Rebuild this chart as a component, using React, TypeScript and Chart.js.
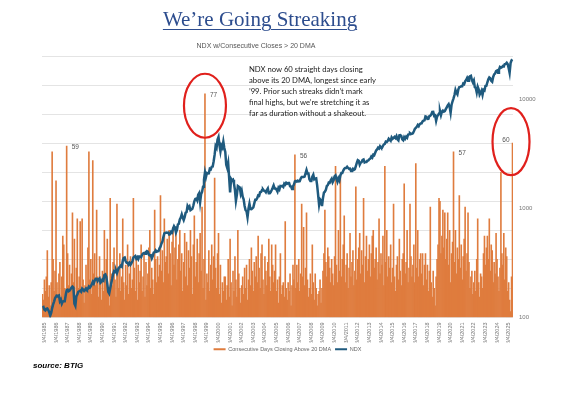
import React, { useEffect, useRef } from "react";
import { Chart, registerables } from "chart.js";

Chart.register(...registerables);

// ---- DATA (monthly, Jan 1985 -> Jul 2025) ----
const START_YEAR = 1985;
const TICK_MONTH = 3; // axis labels on "3/4/YYYY"
const TICK_DAY = 4;

// Consecutive days closing above 20 DMA (longest streak in each month)
const STREAK_1985_1989 = [
  8, 6, 13, 9, 14, 23, 7, 11, 4, 12, 57, 20,
  9, 16, 47, 12, 8, 15, 19, 6, 14, 28, 25, 10,
  7, 59, 22, 11, 18, 9, 15, 36, 12, 27, 6, 17,
  34, 10, 14, 33, 8, 34, 13, 5, 11, 18, 9, 24,
  57, 13, 20, 8, 54, 15, 22, 11, 37, 14, 7, 21,
];
const STREAK_1990_1994 = [
  12, 6, 16, 9, 30, 14, 20, 27, 8, 4, 41, 15,
  11, 19, 24, 13, 7, 39, 16, 10, 22, 9, 14, 34,
  12, 6, 18, 11, 25, 8, 15, 21, 10, 13, 41, 17,
  9, 20, 6, 18, 12, 16, 25, 9, 14, 22, 7, 19,
  11, 15, 24, 30, 10, 17, 13, 8, 37, 20, 12, 21,
];
const STREAK_1995_1999 = [
  14, 18, 42, 16, 23, 12, 34, 19, 21, 27, 15, 30,
  22, 11, 26, 31, 18, 24, 30, 13, 20, 25, 30, 16,
  22, 9, 19, 29, 14, 26, 11, 23, 17, 30, 21, 8,
  25, 35, 14, 19, 27, 12, 22, 29, 16, 38, 10, 20,
  77, 6, 15, 12, 23, 9, 18, 25, 13, 21, 48, 17,
];
const STREAK_2000_2004 = [
  10, 22, 29, 8, 18, 5, 12, 9, 14, 14, 6, 11,
  20, 7, 27, 12, 4, 16, 9, 21, 13, 7, 30, 15,
  10, 5, 11, 14, 8, 17, 10, 18, 6, 13, 20, 11,
  24, 16, 9, 19, 14, 21, 12, 28, 17, 10, 22, 25,
  13, 8, 21, 16, 11, 19, 27, 14, 9, 25, 18, 12,
];
const STREAK_2005_2009 = [
  16, 25, 9, 13, 5, 14, 22, 8, 11, 12, 7, 33,
  10, 6, 12, 9, 15, 4, 11, 18, 13, 56, 10, 18,
  12, 20, 9, 15, 39, 14, 31, 11, 17, 36, 13, 7,
  10, 15, 8, 25, 12, 6, 15, 10, 4, 8, 9, 13,
  5, 10, 16, 22, 37, 19, 14, 24, 21, 17, 12, 20,
];
const STREAK_2010_2014 = [
  15, 11, 21, 52, 18, 12, 30, 16, 49, 14, 20, 25,
  35, 12, 18, 22, 10, 17, 29, 14, 19, 23, 11, 16,
  45, 13, 20, 24, 29, 15, 23, 18, 41, 12, 21, 28,
  16, 20, 25, 14, 22, 28, 30, 17, 20, 24, 13, 19,
  34, 15, 22, 18, 28, 11, 52, 19, 30, 14, 21, 17,
];
const STREAK_2015_2019 = [
  25, 12, 17, 39, 14, 9, 18, 21, 13, 27, 16, 11,
  20, 22, 46, 15, 19, 30, 12, 17, 39, 21, 14, 18,
  25, 12, 53, 17, 30, 14, 20, 22, 15, 22, 11, 18,
  22, 13, 18, 9, 16, 38, 12, 7, 16, 10, 4, 14,
  20, 25, 41, 40, 22, 28, 37, 24, 36, 20, 27, 36,
];
const STREAK_2020_2024 = [
  18, 30, 12, 22, 26, 57, 19, 30, 15, 24, 20, 42,
  17, 25, 13, 21, 27, 38, 16, 22, 36, 19, 10, 14,
  16, 8, 12, 16, 9, 20, 34, 12, 7, 15, 14, 10,
  22, 28, 18, 24, 28, 20, 34, 16, 25, 23, 12, 19,
  15, 29, 20, 14, 9, 17, 50, 22, 18, 29, 13, 24,
];
const STREAK_2025 = [21, 9, 12, 6, 2, 14, 60];

// NDX level (monthly)
const NDX_1985_1989 = [
  124, 125, 118, 116, 120, 121, 117, 112, 104, 110, 122, 132,
  140, 150, 156, 158, 157, 159, 141, 146, 134, 140, 141, 141,
  160, 178, 180, 174, 176, 182, 188, 192, 188, 134, 128, 156,
  162, 172, 174, 176, 172, 184, 180, 175, 180, 185, 180, 183,
  192, 188, 193, 202, 212, 205, 218, 226, 226, 216, 224, 228,
];
const NDX_1990_1994 = [
  208, 212, 222, 218, 245, 248, 236, 204, 172, 166, 184, 205,
  225, 250, 265, 260, 270, 255, 272, 286, 290, 298, 292, 330,
  352, 355, 328, 318, 318, 305, 316, 304, 314, 328, 355, 360,
  366, 346, 356, 342, 362, 360, 356, 376, 386, 390, 384, 398,
  406, 400, 376, 370, 372, 348, 366, 392, 396, 412, 400, 404,
];
const NDX_1995_1999 = [
  405, 430, 445, 475, 495, 545, 590, 595, 600, 598, 600, 576,
  580, 610, 600, 650, 685, 660, 600, 635, 710, 720, 790, 821,
  880, 820, 780, 830, 910, 925, 1050, 1010, 1040, 960, 975, 990,
  1060, 1160, 1220, 1230, 1180, 1335, 1380, 1140, 1345, 1410, 1575, 1836,
  2130, 1930, 2105, 2085, 2090, 2300, 2270, 2400, 2410, 2700, 3100, 3708,
];
const NDX_2000_2004 = [
  3570, 4270, 4500, 3770, 3320, 3760, 3610, 4080, 3570, 3280, 2500, 2341,
  2590, 1910, 1400, 1860, 1800, 1830, 1680, 1470, 1170, 1330, 1600, 1577,
  1550, 1360, 1450, 1280, 1210, 1050, 960, 940, 830, 990, 1100, 984,
  980, 1000, 1020, 1110, 1200, 1200, 1240, 1310, 1300, 1400, 1410, 1467,
  1490, 1450, 1440, 1400, 1470, 1520, 1370, 1370, 1410, 1470, 1540, 1621,
];
const NDX_2005_2009 = [
  1520, 1520, 1480, 1420, 1540, 1490, 1600, 1590, 1600, 1570, 1680, 1645,
  1710, 1680, 1700, 1700, 1590, 1580, 1500, 1590, 1650, 1760, 1780, 1756,
  1790, 1760, 1770, 1870, 1930, 1930, 1930, 1950, 2090, 2240, 2090, 2084,
  1840, 1780, 1780, 1950, 2030, 1840, 1870, 1880, 1620, 1330, 1080, 1212,
  1180, 1050, 1240, 1390, 1420, 1480, 1600, 1630, 1720, 1710, 1800, 1860,
];
const NDX_2010_2014 = [
  1730, 1800, 1960, 2000, 1860, 1750, 1880, 1800, 2000, 2100, 2100, 2217,
  2300, 2340, 2340, 2400, 2340, 2300, 2310, 2200, 2230, 2300, 2250, 2278,
  2430, 2600, 2760, 2720, 2510, 2620, 2650, 2770, 2800, 2630, 2660, 2660,
  2730, 2740, 2820, 2850, 2980, 2910, 3090, 3060, 3220, 3380, 3460, 3592,
  3530, 3700, 3600, 3580, 3730, 3850, 3890, 4080, 4050, 4150, 4330, 4236,
];
const NDX_2015_2019 = [
  4150, 4460, 4330, 4420, 4510, 4400, 4580, 4270, 4180, 4650, 4670, 4593,
  4280, 4200, 4480, 4340, 4520, 4420, 4730, 4770, 4880, 4800, 4810, 4863,
  5070, 5330, 5440, 5580, 5790, 5650, 5880, 5990, 6000, 6250, 6340, 6396,
  6950, 6900, 6580, 6600, 6970, 7040, 7240, 7620, 7630, 7020, 7090, 6330,
  6910, 7130, 7380, 7780, 7130, 7670, 7850, 7660, 7750, 8080, 8400, 8733,
];
const NDX_2020_2024 = [
  8990, 8460, 7500, 8890, 9550, 10160, 10900, 12110, 11420, 11050, 12270, 12888,
  12930, 13090, 13090, 13860, 13690, 14550, 14960, 15580, 14690, 15850, 16140, 16320,
  14930, 14240, 14840, 12850, 12640, 11500, 12950, 12270, 10970, 11410, 11950, 10940,
  12100, 11960, 13180, 13250, 14250, 15180, 15760, 15500, 14720, 14410, 15950, 16826,
  17140, 18040, 18250, 17440, 18540, 19680, 19360, 19570, 20060, 19890, 20930, 21012,
];
const NDX_2025 = [21480, 20880, 19280, 17400, 21340, 22680, 23000];

const RIGHT_TICKS = [100, 1000, 10000];
const PEAK_LABEL_MONTHS = [25, 168, 261, 425, 486]; // streaks annotated with their count
const CIRCLED_MONTHS = [168, 486];

const STREAKS = [
  ...STREAK_1985_1989, ...STREAK_1990_1994, ...STREAK_1995_1999, ...STREAK_2000_2004,
  ...STREAK_2005_2009, ...STREAK_2010_2014, ...STREAK_2015_2019, ...STREAK_2020_2024, ...STREAK_2025,
];
const NDX = [
  ...NDX_1985_1989, ...NDX_1990_1994, ...NDX_1995_1999, ...NDX_2000_2004,
  ...NDX_2005_2009, ...NDX_2010_2014, ...NDX_2015_2019, ...NDX_2020_2024, ...NDX_2025,
];
const LABELS = STREAKS.map((_, i) => `${(i % 12) + 1}/${TICK_DAY}/${START_YEAR + Math.floor(i / 12)}`);

const ORANGE = "#DF7C3E";
const BLUE = "#1F5A7E";

const annotPlugin = {
  id: "annot",
  afterDraw(chart: any) {
    const ctx = chart.ctx;
    const meta = chart.getDatasetMeta(0);
    const last = STREAKS.length - 1;
    ctx.save();
    ctx.font = '6.5px "Liberation Sans", Arial, sans-serif';
    ctx.fillStyle = "#555";
    ctx.textBaseline = "middle";
    PEAK_LABEL_MONTHS.forEach((i) => {
      const el = meta.data[i];
      if (!el) return;
      if (i === last) {
        ctx.textAlign = "right";
        ctx.fillText(String(STREAKS[i]), el.x - 3, el.y - 3);
      } else {
        ctx.textAlign = "left";
        ctx.fillText(String(STREAKS[i]), el.x + 5, el.y + 1);
      }
    });
    ctx.strokeStyle = "#E0201C";
    ctx.lineWidth = 2.2;
    CIRCLED_MONTHS.forEach((i) => {
      const el = meta.data[i];
      if (!el) return;
      ctx.beginPath();
      if (i === last) ctx.ellipse(el.x - 1.5, el.y - 1.5, 18.5, 33.5, 0, 0, Math.PI * 2);
      else ctx.ellipse(el.x, el.y + 12, 21, 32, 0, 0, Math.PI * 2);
      ctx.stroke();
    });
    ctx.restore();
  },
};

function StreakChart() {
  const ref = useRef<HTMLCanvasElement | null>(null);
  useEffect(() => {
    if (!ref.current) return;
    const chart = new Chart(ref.current, {
      type: "bar",
      data: {
        labels: LABELS,
        datasets: [
          {
            type: "bar",
            label: "Consecutive Days Closing Above 20 DMA",
            data: STREAKS,
            backgroundColor: ORANGE,
            borderWidth: 0,
            barPercentage: 1,
            categoryPercentage: 1,
            yAxisID: "y",
            order: 2,
          },
          {
            type: "line",
            label: "NDX",
            data: NDX,
            borderColor: BLUE,
            backgroundColor: BLUE,
            borderWidth: 2.5,
            pointRadius: 0,
            tension: 0,
            yAxisID: "y1",
            order: 1,
          },
        ] as any,
      },
      options: {
        animation: false,
        responsive: false,
        events: [],
        layout: { padding: { top: 56, bottom: 35, left: 0, right: 0 } },
        plugins: {
          tooltip: { enabled: false },
          legend: {
            position: "bottom",
            labels: {
              font: { size: 5.5, family: '"Liberation Sans", Arial, sans-serif' },
              color: "#666",
              boxWidth: 12,
              boxHeight: 2,
              padding: 4,
              generateLabels: (c: any) =>
                c.data.datasets.map((ds: any, i: number) => ({
                  text: ds.label,
                  fillStyle: i === 0 ? ORANGE : BLUE,
                  strokeStyle: i === 0 ? ORANGE : BLUE,
                  lineWidth: 0,
                  hidden: false,
                  datasetIndex: i,
                  fontColor: "#666",
                })),
            },
          },
        },
        scales: {
          x: {
            type: "category",
            grid: { display: false, drawTicks: false },
            border: { display: false },
            ticks: {
              autoSkip: false,
              minRotation: 90,
              maxRotation: 90,
              padding: 5,
              color: "#777",
              font: { size: 5.5, family: '"Liberation Sans", Arial, sans-serif' },
              callback: (_v: any, idx: number) => ((idx % 12) + 1 === TICK_MONTH ? LABELS[idx] : ""),
            },
            afterFit: (s: any) => {
              s.height = 25;
            },
          },
          y: {
            position: "left",
            min: 0,
            max: 90,
            ticks: { stepSize: 10, display: false },
            grid: { color: "#e4e4e4", lineWidth: 1, drawTicks: false },
            border: { display: false },
            afterFit: (s: any) => {
              s.width = 42;
            },
          },
          y1: {
            type: "logarithmic",
            position: "right",
            min: 100,
            max: 24800,
            grid: { display: false, drawTicks: false },
            border: { display: false },
            afterBuildTicks: (s: any) => {
              s.ticks = RIGHT_TICKS.map((v) => ({ value: v }));
            },
            ticks: {
              padding: 6,
              color: "#777",
              font: { size: 6, family: '"Liberation Sans", Arial, sans-serif' },
              callback: (v: any) => String(v),
            },
            afterFit: (s: any) => {
              s.width = 62;
            },
          },
        },
      } as any,
      plugins: [annotPlugin],
    });
    return () => chart.destroy();
  }, []);
  return <canvas ref={ref} width={575} height={397} style={{ position: "absolute", left: 0, top: 0 }} />;
}

export default function App() {
  const noteLines = [
    "NDX now 60 straight days closing",
    "above its 20 DMA, longest since early",
    "\u201999. Prior such streaks didn\u2019t mark",
    "final highs, but we\u2019re stretching it as",
    "far as duration without a shakeout.",
  ];
  return (
    <div style={{ position: "absolute", left: 0, top: 0, width: 575, height: 397, background: "#fff", overflow: "hidden" }}>
      <StreakChart />
      <div
        style={{
          position: "absolute", left: 0, top: 9, width: 520, textAlign: "center",
          fontFamily: '"Liberation Serif", "Times New Roman", serif', fontSize: 21, lineHeight: "21px",
          color: "#2d4d8e", textDecoration: "underline", textDecorationThickness: "1px", textUnderlineOffset: "3px",
          whiteSpace: "nowrap",
        }}
      >
        We’re Going Streaking
      </div>
      <div
        style={{
          position: "absolute", left: 0, top: 41, width: 512, textAlign: "center",
          fontFamily: '"Liberation Sans", Arial, sans-serif', fontSize: 7, lineHeight: "9px", color: "#555",
          whiteSpace: "nowrap",
        }}
      >
        NDX w/Consecutive Closes &gt; 20 DMA
      </div>
      <div
        style={{
          position: "absolute", left: 249, top: 63.5, fontFamily: 'Lato, "Liberation Sans", sans-serif',
          fontSize: 7.7, lineHeight: "11.1px", color: "#1a1a1a", whiteSpace: "nowrap",
        }}
      >
        {noteLines.map((l, i) => (
          <div key={i}>{l}</div>
        ))}
      </div>
      <div
        style={{
          position: "absolute", left: 33, top: 361, fontFamily: '"Liberation Sans", Arial, sans-serif',
          fontSize: 8, lineHeight: "10px", fontWeight: 700, fontStyle: "italic", color: "#000", whiteSpace: "nowrap",
        }}
      >
        source: BTIG
      </div>
    </div>
  );
}
